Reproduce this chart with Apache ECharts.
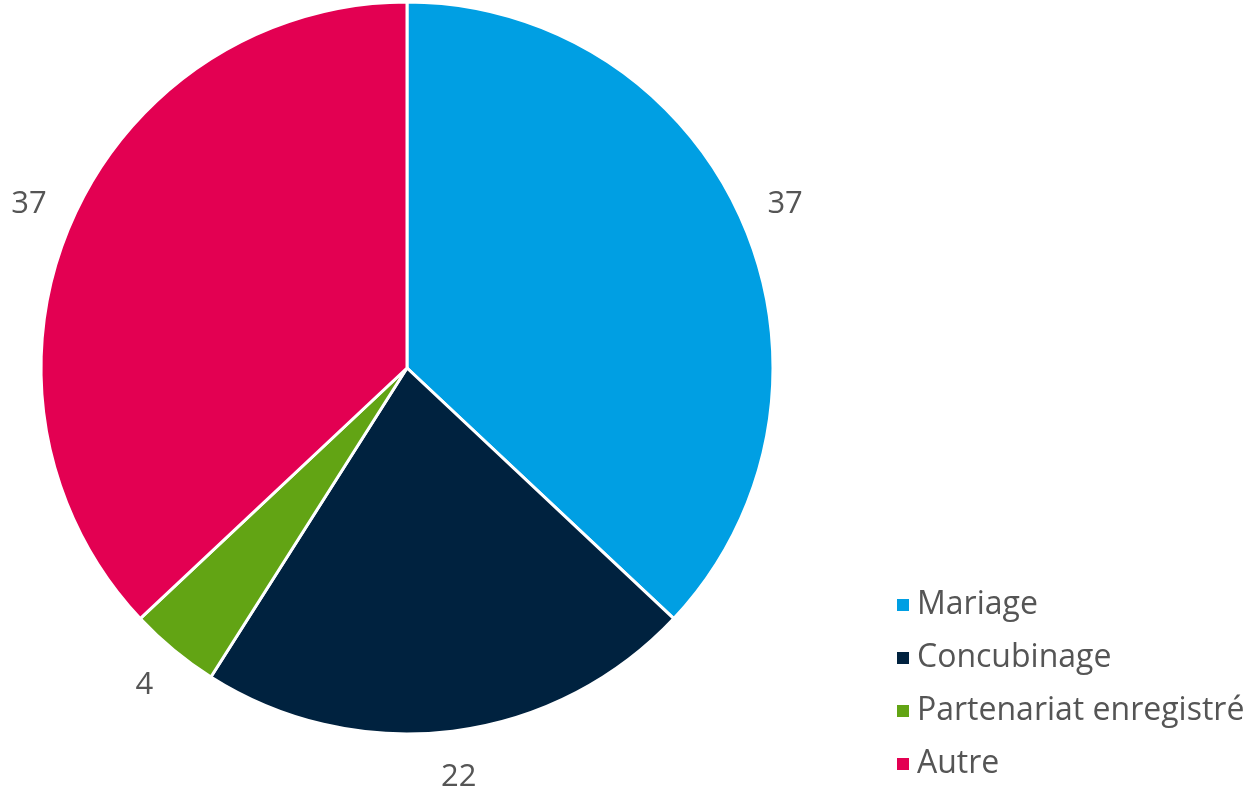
<!DOCTYPE html>
<html>
<head>
<meta charset="utf-8">
<script src="https://cdn.jsdelivr.net/npm/echarts@6/dist/echarts.min.js"></script>
<style>
  html, body { margin: 0; padding: 0; background: #fff; }
  #container { width: 1253px; height: 787px; }
</style>
</head>
<body>
<div id="container"></div>
<script>
// données du graphique
var categories = ['Mariage', 'Concubinage', 'Partenariat enregistré', 'Autre'];
var values = [37, 22, 4, 37];
var colors = ['#009FE3', '#00223F', '#62A414', '#E30052'];

var myChart = echarts.init(document.getElementById('container'));

var pieData = [];
var labelData = [];
for (var i = 0; i < categories.length; i++) {
	pieData.push({ name: categories[i], value: values[i], itemStyle: { color: colors[i] } });
	labelData.push({ name: categories[i], value: values[i] });
}

var option = {
	animation: false,
	legend: {
		orient: 'vertical',
		left: 890,
		top: 584,
		data: categories,
		icon: 'rect',
		itemWidth: 14,
		itemHeight: 14,
		itemGap: 21,
		selectedMode: false,
		textStyle: {
			color: '#555555',
			fontFamily: 'Open Sans',
			fontSize: 32,
			lineHeight: 32,
			padding: [0, 0, 0, 2]
		}
	},
	series: [{
		name: 'main',
		type: 'pie',
		center: [407, 368],
		radius: [0, 366],
		startAngle: 90,
		clockwise: true,
		silent: true,
		label: { show: false },
		labelLine: { show: false },
		itemStyle: { borderColor: '#ffffff', borderWidth: 3 },
		data: pieData
	}, {
		// anneau invisible pour placer les étiquettes
		name: 'labels',
		type: 'pie',
		center: [407, 368],
		radius: [366, 452],
		startAngle: 90,
		clockwise: true,
		silent: true,
		itemStyle: { color: 'rgba(0,0,0,0)' },
		label: {
			show: true,
			position: 'inside',
			formatter: '{c}',
			color: '#555555',
			fontFamily: 'Open Sans',
			fontSize: 31
		},
		labelLine: { show: false },
		data: labelData
	}]
};
myChart.setOption(option);
</script>
</body>
</html>
